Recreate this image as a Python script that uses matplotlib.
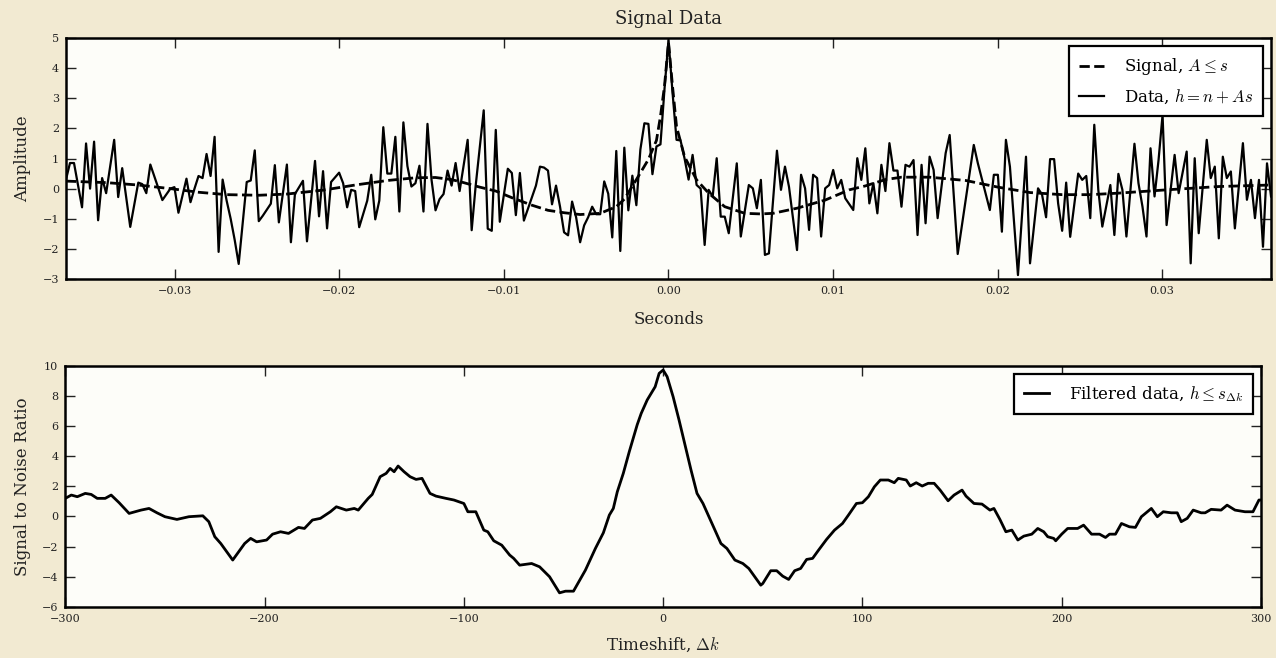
import numpy as np
import matplotlib.pyplot as plt

plt.rcParams['font.family'] = ['DejaVu Serif']
plt.rcParams['mathtext.fontset'] = 'cm'

fs = 4096.0  # sample rate

# sample index / amplitude of the noisy data (vertices)
data_k = [-150, -149, -148, -146, -145, -144, -143, -142, -141, -140, -138, -137, -136, -134,
          -132, -131, -130, -129, -126, -124, -123, -122, -120, -119, -118, -117, -116, -115,
          -114, -113, -112, -111, -110, -109, -108, -107, -105, -104, -103, -102, -101, -100,
          -99, -98, -97, -95, -94, -93, -91, -90, -88, -87, -86, -85, -84, -82, -81, -80, -79,
          -78, -77, -75, -74, -73, -72, -71, -70, -69, -68, -67, -66, -65, -64, -63, -62, -61,
          -60, -59, -58, -57, -56, -55, -54, -53, -52, -50, -49, -48, -46, -45, -44, -43, -42,
          -40, -39, -38, -37, -36, -34, -33, -32, -31, -30, -29, -28, -27, -26, -25, -24, -23,
          -22, -21, -20, -19, -18, -17, -16, -15, -14, -13, -12, -11, -10, -9, -8, -7, -6, -5,
          -4, -3, -2, -1, 0, 1, 2, 3, 4, 5, 6, 7, 8, 9, 10, 11, 12, 13, 14, 15, 17, 18, 20, 21,
          22, 23, 24, 25, 27, 28, 29, 30, 32, 33, 34, 35, 36, 37, 38, 39, 40, 41, 42, 43, 44, 46,
          47, 48, 49, 50, 51, 52, 53, 54, 55, 56, 57, 58, 59, 60, 61, 62, 63, 64, 65, 66, 67, 69,
          70, 72, 76, 77, 80, 81, 82, 83, 84, 85, 87, 89, 90, 92, 93, 94, 95, 96, 97, 98, 99,
          100, 102, 103, 104, 105, 106, 107, 108, 110, 111, 112, 113, 114, 116, 117, 118, 119,
          120, 121, 122, 123, 124, 126, 127, 129, 130, 131, 132, 134, 135, 136, 137, 138, 139,
          140, 141, 143, 144, 145, 146, 147, 148, 149, 150]
data_amp = [0.3, 0.85, 0.85, -0.62, 1.5, 0.0, 1.56, -1.05, 0.35, -0.15, 1.62, -0.28, 0.68, -1.27,
            0.2, 0.15, -0.15, 0.8, -0.38, 0.0, 0.05, -0.8, 0.33, -0.45, 0.0, 0.42, 0.35, 1.15,
            0.42, 1.72, -2.1, 0.3, -0.4, -1.0, -1.7, -2.5, 0.22, 0.27, 1.27, -1.08, -0.9, -0.7,
            -0.5, 0.78, -1.12, 0.8, -1.78, -0.18, 0.26, -1.75, 0.92, -0.92, 0.58, -1.32, 0.22,
            0.53, 0.18, -0.62, -0.04, -0.08, -1.28, -0.4, 0.46, -1.02, -0.4, 2.04, 0.5, 0.5, 1.72,
            -0.76, 2.2, 0.75, 0.07, 0.18, 0.76, -0.76, 2.15, 0.3, -0.72, -0.35, -0.18, 0.6, 0.1,
            0.85, -0.08, 1.62, -1.38, 0.1, 2.6, -1.33, -1.4, 1.95, -1.1, 0.66, 0.52, -0.88, 0.52,
            -1.06, -0.28, 0.1, 0.73, 0.7, 0.6, -0.52, 0.1, -0.6, -1.45, -1.55, -0.43, -0.95,
            -1.78, -1.22, -0.95, -0.6, -0.85, -0.85, 0.24, -0.17, -1.62, 1.25, -2.07, 1.36, -0.72,
            0.43, -0.55, 1.3, 2.17, 2.15, 0.48, 1.4, 1.47, 3.3, 4.94, 3.2, 1.62, 1.6, 1.0, 0.3,
            1.12, 0.12, 0.0, -1.87, -0.04, -0.26, 1.01, -0.93, -0.93, -1.48, 0.84, -1.59, 0.12,
            0.01, -0.65, 0.29, -2.2, -2.15, 1.26, -0.04, 0.73, 0.06, -2.04, 0.46, 0.01, -1.37,
            0.46, 0.35, -1.59, 0.01, 0.12, 0.62, 0.01, 0.29, -0.32, -0.71, 1.01, 0.29, 1.34, -0.49,
            0.18, -0.82, 0.79, -0.08, 1.51, 0.6, 0.6, -0.6, 0.79, 0.73, 0.95, -1.54, 0.79, -1.15,
            1.06, 0.62, -0.98, 1.18, 1.78, -2.17, 1.45, 0.85, -0.71, 0.46, 0.46, -1.43, 1.62,
            0.73, -2.87, 1.06, -2.48, 0.01, -0.2, -0.95, 0.98, 0.98, -0.49, -1.4, 0.2, -1.6, 0.5,
            0.29, 0.42, -0.98, 2.12, -0.04, -1.26, 0.12, -1.54, 0.49, -0.04, -1.59, 1.49, 0.18,
            -0.6, -1.59, 1.34, -0.26, 0.95, 2.45, -1.21, 1.12, -0.15, 1.23, -2.48, 1.01, -1.48,
            1.62, 0.35, 0.73, -1.65, 1.06, 0.35, 0.57, -1.32, 1.51, -0.37, 0.29, -0.98, 0.29,
            -1.93, 0.84, -0.26]

# clean signal template
signal_k = [-150, -140, -132, -124, -117, -110, -102, -95, -86, -78, -70, -63, -58, -54, -51,
            -47, -43, -39, -34, -30, -26, -22, -17, -13, -11, -8, -5, -3, -2, -1, 0, 1, 2, 4, 7,
            10, 14, 19, 23, 26, 32, 39, 45, 49, 54, 58, 65, 74, 82, 90, 98, 105, 112, 124, 137,
            150]
signal_amp = [0.25, 0.2, 0.12, 0.0, -0.12, -0.2, -0.22, -0.18, -0.05, 0.12, 0.27, 0.36, 0.37,
              0.3, 0.2, 0.05, -0.08, -0.3, -0.55, -0.72, -0.8, -0.86, -0.82, -0.6, -0.35, 0.3,
              0.97, 1.6, 2.4, 3.4, 4.85, 3.4, 2.06, 1.06, 0.29, -0.15, -0.6, -0.82, -0.84, -0.82,
              -0.65, -0.38, -0.04, 0.09, 0.3, 0.38, 0.38, 0.27, 0.05, -0.13, -0.2, -0.2, -0.15,
              -0.04, 0.07, 0.12]

# matched filter output
shift = [-300, -297, -294, -290, -287, -284, -280, -277, -273, -268, -262, -258, -254, -250,
         -244, -238, -231, -228, -225, -222, -216, -213, -210, -207, -204, -199, -196, -192,
         -188, -183, -180, -176, -172, -167, -164, -159, -155, -153, -148, -146, -142, -139,
         -137, -135, -133, -130, -127, -124, -121, -117, -114, -109, -105, -100, -98, -94, -90,
         -88, -85, -81, -77, -75, -72, -66, -62, -57, -52, -49, -45, -39, -34, -30, -27, -25,
         -23, -20, -17, -13, -11, -8, -4, -2, 0, 2, 5, 8, 11, 14, 17, 20, 23, 26, 29, 32, 36,
         40, 43, 46, 49, 50, 54, 57, 60, 63, 66, 69, 72, 75, 78, 82, 86, 90, 93, 97, 100, 103,
         106, 109, 113, 116, 118, 122, 124, 127, 130, 133, 136, 139, 143, 146, 150, 152, 156,
         160, 164, 166, 169, 172, 175, 178, 181, 185, 188, 191, 193, 196, 197, 200, 203, 208,
         211, 215, 219, 222, 224, 227, 230, 234, 237, 240, 245, 248, 251, 255, 258, 260, 263,
         266, 270, 272, 275, 280, 283, 287, 292, 296, 299, 300]
snr = [1.2, 1.42, 1.31, 1.53, 1.46, 1.2, 1.2, 1.42, 0.91, 0.2, 0.42, 0.53, 0.24, -0.02, -0.2,
       -0.02, 0.04, -0.35, -1.35, -1.8, -2.9, -2.35, -1.8, -1.46, -1.69, -1.57, -1.18, -1.02,
       -1.13, -0.73, -0.8, -0.24, -0.13, 0.31, 0.64, 0.42, 0.53, 0.42, 1.2, 1.46, 2.64, 2.86,
       3.19, 2.97, 3.35, 2.97, 2.64, 2.46, 2.53, 1.53, 1.35, 1.2, 1.09, 0.86, 0.31, 0.31, -0.91,
       -1.02, -1.62, -1.91, -2.57, -2.79, -3.24, -3.13, -3.35, -4.01, -5.08, -4.97, -4.97,
       -3.57, -2.13, -1.09, 0.09, 0.53, 1.64, 2.86, 4.3, 6.1, 6.85, 7.74, 8.62, 9.51, 9.73,
       9.29, 7.96, 6.4, 4.74, 3.08, 1.53, 0.86, -0.02, -0.91, -1.8, -2.13, -2.9, -3.13, -3.46,
       -4.01, -4.57, -4.46, -3.61, -3.61, -3.97, -4.19, -3.61, -3.46, -2.86, -2.79, -2.24,
       -1.53, -0.91, -0.47, 0.09, 0.86, 0.91, 1.31, 1.97, 2.42, 2.42, 2.24, 2.53, 2.42, 2.02,
       2.24, 2.02, 2.2, 2.2, 1.75, 1.04, 1.42, 1.75, 1.35, 0.86, 0.82, 0.42, 0.53, -0.2, -1.02,
       -0.91, -1.57, -1.31, -1.18, -0.8, -1.02, -1.35, -1.46, -1.62, -1.18, -0.8, -0.8, -0.58,
       -1.18, -1.18, -1.4, -1.18, -1.18, -0.47, -0.69, -0.73, -0.02, 0.53, -0.02, 0.31, 0.24,
       0.24, -0.35, -0.13, 0.42, 0.24, 0.24, 0.47, 0.42, 0.75, 0.42, 0.31, 0.31, 1.09, 1.09]

t_data = np.array(data_k) / fs
t_sig = np.array(signal_k) / fs

fig = plt.figure(figsize=(12.76, 6.58), dpi=100, facecolor='#f2ead2')
ax1 = fig.add_axes([0.0517, 0.576, 0.9444, 0.3662], facecolor='#fdfdf9')
ax2 = fig.add_axes([0.0512, 0.078, 0.937, 0.3658], facecolor='#fdfdf9')

ax1.plot(t_sig, signal_amp, 'k--', lw=2.0, label=r'Signal, $A \leq s$')
ax1.plot(t_data, data_amp, 'k-', lw=1.6, label=r'Data, $h = n + As$')
ax1.set_xlim(-150 / fs, 150 / fs)
ax1.set_ylim(-3, 5)
ax1.set_xticks([-0.03, -0.02, -0.01, 0.0, 0.01, 0.02, 0.03])
ax1.set_xticklabels(['\u22120.03', '\u22120.02', '\u22120.01', '0.00', '0.01', '0.02', '0.03'])
ax1.set_yticks(range(-3, 6))
ax1.set_title('Signal Data', fontsize=13, color='#222222', pad=10)
ax1.set_xlabel('Seconds', fontsize=12, color='#222222', labelpad=11)
ax1.set_ylabel('Amplitude', fontsize=12, color='#222222', labelpad=8)

ax2.plot(shift, snr, 'k-', lw=2.0, label=r'Filtered data, $h \leq s_{\Delta k}$')
ax2.set_xlim(-300, 300)
ax2.set_ylim(-6, 10)
ax2.set_xticks(range(-300, 301, 100))
ax2.set_yticks(range(-6, 11, 2))
ax2.set_xlabel(r'Timeshift, $\Delta k$', fontsize=12, color='#222222', labelpad=9)
ax2.set_ylabel('Signal to Noise Ratio', fontsize=12, color='#222222', labelpad=8)

for ax in (ax1, ax2):
    ax.tick_params(direction='in', top=True, right=True, length=7, width=1,
                   labelsize=8, colors='#222222', pad=5)
    for s in ax.spines.values():
        s.set_linewidth(1.8)
    leg = ax.legend(loc='upper right', fontsize=12, handlelength=1.5, fancybox=False,
                    framealpha=1, borderpad=0.6, labelspacing=0.6, borderaxespad=0.5,
                    handletextpad=1.2)
    leg.get_frame().set_edgecolor('black')
    leg.get_frame().set_linewidth(1.6)

fig.savefig('out.png', dpi=100, facecolor=fig.get_facecolor())
